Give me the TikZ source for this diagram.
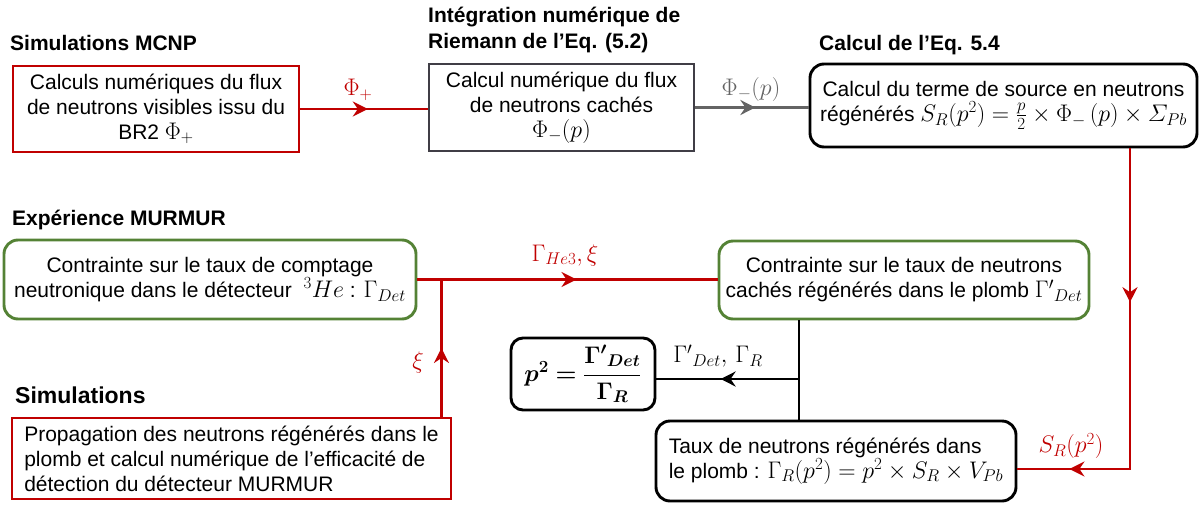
\RequirePackage{fix-cm}
\documentclass[tikz,border=0pt]{standalone}
\usepackage{amsmath,amssymb}
\usepackage{bm}
\usepackage{fontspec}
\setmainfont{Liberation Sans}
\usepackage{tikz}
\usetikzlibrary{calc,arrows.meta,decorations.markings}
\definecolor{flowred}{RGB}{192,0,0}
\definecolor{boxgreen}{RGB}{84,130,53}
\definecolor{boxgray}{RGB}{64,62,70}
\definecolor{flowgray}{RGB}{100,100,100}
\DeclareMathSizes{21}{24}{17}{13}
\newcommand{\dgbody}{\fontsize{21}{25}\selectfont}
\newcommand{\dgtitle}{\fontsize{21}{26}\selectfont\bfseries}
\newcommand{\dgbig}{\fontsize{23}{28}\selectfont\bfseries}

\begin{document}
\begin{tikzpicture}[x=1pt,y=-1pt,
    box/.style={draw, line width=2.9pt, inner sep=0pt, align=center, font=\dgbody},
    roundbox/.style={box, rounded corners=14pt},
    title/.style={anchor=base west, inner sep=0pt, align=left, font=\dgtitle},
    lbl/.style={inner sep=0pt, font=\dgbody},
    link/.style={line width=2.5pt},
    midarrow/.style={postaction={decorate}, decoration={markings,
        mark=at position #1 with {\arrow{Stealth[length=15pt,width=15pt,inset=5pt]}}}},
    midarrow/.default=0.53,
    twoarrows/.style 2 args={postaction={decorate}, decoration={markings,
        mark=at position #1 with {\arrow{Stealth[length=15pt,width=15pt,inset=5pt]}},
        mark=at position #2 with {\arrow{Stealth[length=15pt,width=15pt,inset=5pt]}}}}]
    \useasboundingbox (0,0) rectangle (1203,504);

    % titles
    \node[title] (tmcnp) at (10,50) {Simulations MCNP};
    \node[title] (triem) at (428,48) {Intégration numérique de\\Riemann de l’Eq. (5.2)};
    \node[title] (tsrc) at (819,50) {Calcul de l’Eq. 5.4};
    \node[title] (texp) at (12,225) {Expérience MURMUR};
    \node[title, font=\dgbig] (tsim) at (15,403) {Simulations};

    % boxes
    \node[box, draw=flowred, minimum width=286pt, minimum height=86pt] (mcnp) at (156,109)
        {Calculs numériques du flux\\de neutrons visibles issu du\\BR2 $\Phi_+$};
    \node[box, draw=boxgray, minimum width=265pt, minimum height=87pt] (riem) at (561.5,107.5)
        {Calcul numérique du flux\\de neutrons cachés\\$\Phi_-(p)$};
    \node[roundbox, minimum width=387pt, minimum height=83pt] (src) at (1003.5,105.5)
        {Calcul du terme de source en neutrons\\régénérés ${S_R(p^2)=\frac{p}{2}\times\Phi_-\,(p)\times\varSigma_{Pb}}$};
    \node[roundbox, draw=boxgreen, minimum width=412pt, minimum height=79pt] (exp) at (210,279.5)
        {Contrainte sur le taux de comptage\\neutronique dans le détecteur \ $^{3}He$ : $\Gamma_{Det}$};
    \node[roundbox, draw=boxgreen, minimum width=370pt, minimum height=78pt] (contr) at (904,280)
        {Contrainte sur le taux de neutrons\\cachés régénérés dans le plomb ${\Gamma'}_{Det}$};
    \node[roundbox, rounded corners=12pt, minimum width=144pt, minimum height=72pt] (ratio) at (583,374)
        {$\bm{p^2=\dfrac{{\Gamma'}_{Det}}{\Gamma_R}}$};
    \node[roundbox, align=left, minimum width=360pt, minimum height=80pt] (taux) at (836,461)
        {Taux de neutrons régénérés dans\\le plomb : ${\Gamma_R(p^2)=p^2\times S_R\times V_{Pb}}$};
    \node[box, draw=flowred, align=left, minimum width=439pt, minimum height=81pt] (prop) at (231.5,458.5)
        {Propagation des neutrons régénérés dans le\\plomb et calcul numérique de l’efficacité de\\détection du détecteur MURMUR};

    % top row
    \draw[link, flowred, midarrow] (mcnp.east) -- (mcnp.east -| riem.west);
    \node[lbl, text=flowred] (phiplus) at (358,90) {$\Phi_+$};
    \draw[link, flowgray, midarrow] (riem.east) -- (riem.east -| src.west);
    \node[lbl, text=flowgray] (phiminus) at (751,89) {$\Phi_-(p)$};

    % source term down to the lead box
    \coordinate (srcturn) at (1130,469);
    \draw[link, flowred, twoarrows={0.355}{0.88}] (src.south -| srcturn) -- (srcturn) -- (taux.east |- srcturn);
    \node[lbl, text=flowred] (srlabel) at (1071,446) {$S_R(p^2)$};

    % MURMUR constraint and efficiency
    \draw[link, flowred, midarrow] (exp.east) -- (exp.east -| contr.west);
    \node[lbl, text=flowred] (gammahe) at (565,255) {$\Gamma_{He3},\xi$};
    \path (exp.east) ++(24,0) coordinate (xijoin);
    \draw[link, flowred, midarrow=0.5] (prop.north -| xijoin) -- (xijoin);
    \node[lbl, text=flowred] (xilabel) at (418,362) {$\xi$};

    % hidden neutrons down to the ratio
    \coordinate (split) at (799,379);
    \draw[link] (contr.south -| split) -- (taux.north -| split);
    \draw[link, midarrow=0.55] (split) -- (split -| ratio.east);
    \node[lbl] (gammadet) at (718,356) {${\Gamma'}_{Det},\,\Gamma_R$};
\end{tikzpicture}
\end{document}
